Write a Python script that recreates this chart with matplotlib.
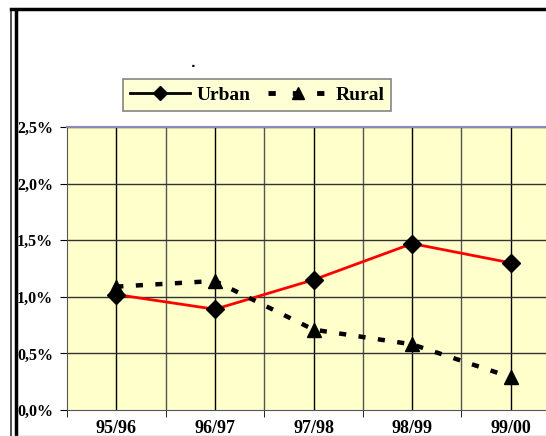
import matplotlib
matplotlib.use("Agg")
import matplotlib.pyplot as plt
from matplotlib.lines import Line2D
import numpy as np

categories = ["95/96", "96/97", "97/98", "98/99", "99/00"]
urban = [1.02, 0.89, 1.15, 1.47, 1.30]
rural = [1.09, 1.14, 0.71, 0.58, 0.29]
yticks = [0.0, 0.5, 1.0, 1.5, 2.0, 2.5]
ylabels = ["0,0%", "0,5%", "1,0%", "1,5%", "2,0%", "2,5%"]

W, H = 546, 436
fig = plt.figure(figsize=(W / 100, H / 100), dpi=100)
fig.patch.set_facecolor("white")

left, right, top, bottom = 67, 560, 127, 410
ax = fig.add_axes([left / W, (H - bottom) / H, (right - left) / W, (bottom - top) / H])
ax.set_facecolor("#FFFFCC")
x = np.arange(len(categories))
ax.plot(x, urban, color="#FF0000", lw=2, zorder=3)
ax.plot(x, urban, ls="none", marker="D", ms=9, color="black", zorder=4)
ax.plot(x, rural, color="black", lw=3.2, ls=(0, (1.6, 2.8)), zorder=3)
ax.plot(x, rural, ls="none", marker="^", ms=10, color="black", zorder=4)

ax.set_xlim(-0.5, 4.5)
ax.set_ylim(0, 2.5)
ax.set_yticks(yticks)
ax.set_yticklabels(ylabels)
ax.set_xticks(x)
ax.set_xticklabels(categories)
ax.set_xticks(np.arange(-0.5, 5.0, 1.0), minor=True)
for v in x:
    ax.axvline(v, color="#000000", lw=1, zorder=1)
for v in np.arange(0.5, 4.6, 1.0):
    ax.axvline(v, color="#555555", lw=1, zorder=1)
for v in yticks[1:]:
    ax.axhline(v, color="#333333", lw=1, zorder=1)
ax.tick_params(axis="x", which="major", length=0, pad=7)
ax.tick_params(axis="x", which="minor", length=5, direction="out", color="black")
ax.tick_params(axis="y", length=5, direction="out", color="black", pad=5)
for lab in ax.get_yticklabels():
    lab.set_fontfamily("Liberation Serif")
    lab.set_fontweight("bold")
    lab.set_fontsize(11.5)
for lab in ax.get_xticklabels():
    lab.set_fontfamily("Liberation Serif")
    lab.set_fontweight("bold")
    lab.set_fontsize(13)
for s in ["right"]:
    ax.spines[s].set_visible(False)
ax.spines["top"].set_color("#8888BB")
ax.spines["top"].set_linewidth(1.5)
ax.spines["left"].set_color("#555555")
ax.spines["bottom"].set_color("#555555")

# legend
handles = [
    Line2D([], [], color="black", lw=2, marker="D", ms=7),
    Line2D([], [], color="black", lw=3.5, ls=(0, (1.5, 3.5)), marker="^", ms=9),
]
leg = fig.legend(handles, ["Urban", "Rural"], loc="center",
                 bbox_to_anchor=(257 / W, 1 - 95 / H), ncol=2,
                 prop={"family": "Liberation Serif", "weight": "bold", "size": 14},
                 frameon=True, fancybox=False, handlelength=3.1, columnspacing=0.9,
                 borderpad=0.35, handletextpad=0.35)
leg.get_frame().set_facecolor("#FFFFCC")
leg.get_frame().set_edgecolor("#666666")
leg.get_frame().set_linewidth(1.2)

fig.text(193 / W, 1 - 70 / H, ".", ha="center", va="bottom", fontsize=9,
         fontweight="bold")

# outer frame
fig.add_artist(Line2D([11 / W, 11 / W], [0, 1 - 10 / H], transform=fig.transFigure,
                      color="#333333", lw=1.2))
fig.add_artist(Line2D([15.5 / W, 15.5 / W], [0, 1 - 10.5 / H], transform=fig.transFigure,
                      color="black", lw=2.5))
fig.add_artist(Line2D([11 / W, 1], [1 - 9.5 / H, 1 - 9.5 / H], transform=fig.transFigure,
                      color="black", lw=2.5))
fig.add_artist(Line2D([15 / W, 1], [1 - 435.5 / H, 1 - 435.5 / H], transform=fig.transFigure,
                      color="#AAAAAA", lw=1))

fig.savefig("out.png", dpi=100)
